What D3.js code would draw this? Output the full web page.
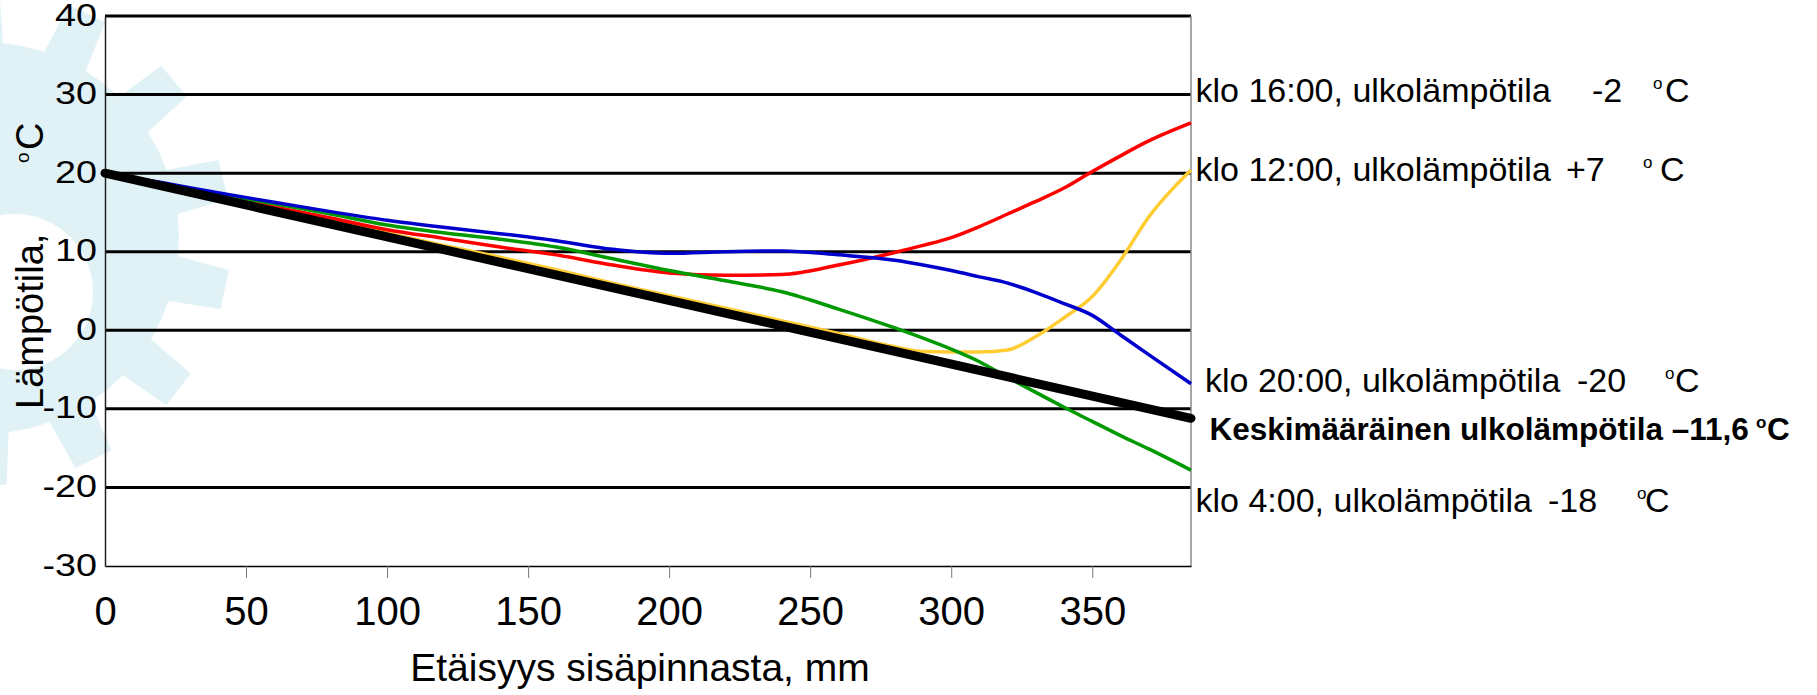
<!DOCTYPE html>
<html>
<head>
<meta charset="utf-8">
<script src="https://cdn.jsdelivr.net/npm/d3@7/dist/d3.min.js"></script>
<style>
  body { margin: 0; background: #fff; }
  text { font-family: "Liberation Sans", Arial, sans-serif; fill: #000; }
</style>
</head>
<body>
<div id="chart"></div>
<script>
// distance from the inner surface, mm
var distance = [0, 20, 40, 60, 80, 100, 120, 140, 160, 180, 200, 220, 240, 260, 280, 290, 300, 310, 320, 330, 340, 350, 360, 370, 385];

// temperatures inside the wall, degC
var temp16 = [20, 18.45, 17.0, 15.7, 14.3, 12.8, 11.7, 10.6, 9.6, 8.3, 7.3, 7.0, 7.1, 8.3, 9.9, 10.8, 11.8, 13.2, 14.8, 16.4, 18.1, 20.2, 22.2, 24.1, 26.4];
var temp12 = [20, 18.7, 17.2, 15.6, 14.0, 12.4, 10.8, 9.3, 7.7, 6.0, 4.4, 2.8, 1.2, -0.4, -2.1, -2.7, -2.75, -2.75, -2.5, -0.8, 1.6, 4.3, 8.9, 14.4, 20.4];
var temp20 = [20, 18.8, 17.5, 16.3, 15.1, 14.0, 13.1, 12.3, 11.4, 10.3, 9.8, 10.0, 10.1, 9.6, 8.9, 8.3, 7.6, 6.8, 6.0, 4.8, 3.4, 1.9, -0.6, -3.1, -6.8];
var temp4 = [20, 18.7, 17.4, 16.1, 14.8, 13.4, 12.4, 11.6, 10.6, 9.1, 7.6, 6.3, 4.9, 2.7, 0.3, -1.0, -2.4, -4.0, -6.0, -7.9, -9.8, -11.6, -13.4, -15.1, -17.8];

// average outdoor temperature case (straight line)
var avgDistance = [0, 385];
var avgTemp = [20, -11.2];

var xTicks = [0, 50, 100, 150, 200, 250, 300, 350];
var yTicks = [-30, -20, -10, 0, 10, 20, 30, 40];

var seriesNames = ['klo 16:00, ulkolämpötila', 'klo 12:00, ulkolämpötila', 'klo 20:00, ulkolämpötila', 'klo 4:00, ulkolämpötila'];
var outdoorTemps = ['-2', '+7', '-20', '-18'];
var avgLabel = 'Keskimääräinen ulkolämpötila \u201311,6';

function draw() {
    var width = 1817, height = 695;
    var plotLeft = 105, plotRight = 1191, plotTop = 16, plotBottom = 566;

    var svg = d3.select('#chart')
        .append('svg')
        .attr('width', width)
        .attr('height', height);

    // light blue gear watermark behind the chart
    function gearPath(cx, cy, rTip, rBody, n, start, hx, hy, rHole) {
        var p = d3.path();
        var step = Math.PI * 2 / n;
        for (var i = 0; i < n; i++) {
            var a = start + i * step;
            var pts = [
                [rBody, a - step * 0.26],
                [rTip, a - step * 0.18],
                [rTip, a + step * 0.18],
                [rBody, a + step * 0.26],
                [rBody, a + step * 0.5],
                [rBody, a + step * 0.74]
            ];
            pts.forEach(function(q, j) {
                var px = cx + q[0] * Math.cos(q[1]), py = cy + q[0] * Math.sin(q[1]);
                if (i === 0 && j === 0) p.moveTo(px, py); else p.lineTo(px, py);
            });
        }
        p.closePath();
        p.moveTo(hx + rHole, hy);
        p.arc(hx, hy, rHole, 0, Math.PI * 2);
        p.closePath();
        return p.toString();
    }

    svg.append('path')
        .attr('d', gearPath(-17, 238, 248, 196, 14, 0.21, 15, 292, 78))
        .attr('fill', '#e1f2f7')
        .attr('fill-rule', 'evenodd');

    var x = d3.scaleLinear().domain([0, 385]).range([plotLeft, plotRight]);
    var y = d3.scaleLinear().domain([-30, 40]).range([plotBottom, plotTop]);

    // horizontal grid lines
    svg.append('g')
        .selectAll('line')
        .data(yTicks.filter(function(d) { return d > -30; }))
        .enter()
        .append('line')
        .attr('x1', plotLeft)
        .attr('x2', plotRight)
        .attr('y1', function(d) { return y(d); })
        .attr('y2', function(d) { return y(d); })
        .attr('stroke', '#000')
        .attr('stroke-width', 3);

    // right border
    svg.append('line')
        .attr('x1', plotRight).attr('x2', plotRight)
        .attr('y1', plotTop).attr('y2', plotBottom)
        .attr('stroke', '#8a8a8a').attr('stroke-width', 1.5);

    // x axis
    var xAxis = svg.append('g')
        .attr('transform', 'translate(0,' + plotBottom + ')')
        .call(d3.axisBottom(x).tickValues(xTicks).tickSize(12).tickSizeOuter(0).tickFormat(String));
    xAxis.select('.domain').attr('stroke', '#000').attr('stroke-width', 1.5);
    xAxis.selectAll('.tick line').attr('stroke', '#777').attr('stroke-width', 1);
    xAxis.selectAll('.tick line').filter(function(d) { return d === 0; }).remove();
    xAxis.selectAll('.tick text')
        .attr('y', 59)
        .attr('dy', 0)
        .attr('font-size', 40)
        .attr('font-family', '"Liberation Sans", Arial, sans-serif');

    // y axis
    var yAxis = svg.append('g')
        .attr('transform', 'translate(' + plotLeft + ',0)')
        .call(d3.axisLeft(y).tickValues(yTicks).tickSize(0).tickSizeOuter(0).tickFormat(String));
    yAxis.select('.domain').attr('stroke', '#222').attr('stroke-width', 1.5);
    yAxis.selectAll('.tick text')
        .attr('x', 0)
        .attr('dy', 0)
        .attr('font-size', 32)
        .attr('font-family', '"Liberation Sans", Arial, sans-serif')
        .attr('text-anchor', 'end')
        .attr('transform', 'translate(-8,9) scale(1.18,1)');

    // curves
    var line = d3.line()
        .x(function(d) { return x(d[0]); })
        .y(function(d) { return y(d[1]); })
        .curve(d3.curveMonotoneX);

    var curves = [
        { values: temp12, color: '#ffcc33' },
        { values: temp16, color: '#ff0000' },
        { values: temp4, color: '#009900' },
        { values: temp20, color: '#0000cc' }
    ];

    svg.append('g')
        .selectAll('path')
        .data(curves)
        .enter()
        .append('path')
        .attr('d', function(c) {
            return line(distance.map(function(d, i) { return [d, c.values[i]]; }));
        })
        .attr('fill', 'none')
        .attr('stroke', function(c) { return c.color; })
        .attr('stroke-width', 3.5)
        .attr('stroke-linejoin', 'round');

    svg.append('path')
        .attr('d', line(avgDistance.map(function(d, i) { return [d, avgTemp[i]]; })))
        .attr('fill', 'none')
        .attr('stroke', '#000')
        .attr('stroke-width', 9)
        .attr('stroke-linecap', 'round');

    // labels on the right
    var labelPos = [
        { y: 101.7, x: 1195.5, tx: 1592, ox: 1653, cx: 1665 },
        { y: 180.7, x: 1195.5, tx: 1566, ox: 1643, cx: 1660 },
        { y: 391.7, x: 1205, tx: 1577, ox: 1665, cx: 1675 },
        { y: 511.7, x: 1195.5, tx: 1548, ox: 1637, cx: 1645 }
    ];

    seriesNames.forEach(function(name, i) {
        var p = labelPos[i];
        var t = svg.append('text').attr('font-size', 34);
        t.append('tspan').attr('x', p.x).attr('y', p.y).text(name);
        t.append('tspan').attr('x', p.tx).attr('y', p.y).text(outdoorTemps[i]);
        t.append('tspan').attr('x', p.ox).attr('y', p.y - 13).attr('font-size', 17).text('o');
        t.append('tspan').attr('x', p.cx).attr('y', p.y).text('C');
    });

    var avgText = svg.append('text')
        .attr('font-size', 31.5)
        .attr('font-weight', 'bold');
    avgText.append('tspan').attr('x', 1209.5).attr('y', 440).text(avgLabel);
    avgText.append('tspan').attr('x', 1756).attr('y', 428).attr('font-size', 17).text('o');
    avgText.append('tspan').attr('x', 1767).attr('y', 440).text('C');

    // axis titles
    var yTitle = svg.append('text')
        .attr('transform', 'translate(43,409) rotate(-90)')
        .attr('font-size', 38);
    yTitle.append('tspan').attr('x', 0).attr('y', 0).text('Lämpötila,');
    yTitle.append('tspan').attr('x', 246).attr('y', -14).attr('font-size', 19).text('o');
    yTitle.append('tspan').attr('x', 259).attr('y', 0).text('C');

    svg.append('text')
        .attr('x', 640)
        .attr('y', 681)
        .attr('text-anchor', 'middle')
        .attr('font-size', 39)
        .text('Etäisyys sisäpinnasta, mm');
}

draw();
</script>
</body>
</html>
